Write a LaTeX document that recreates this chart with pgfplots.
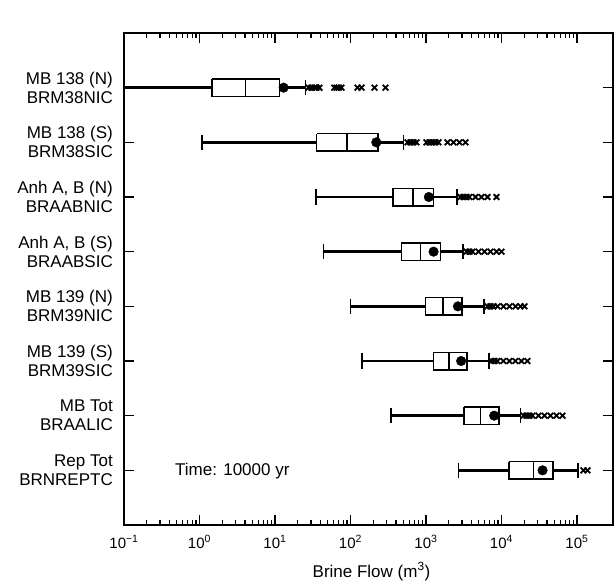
\documentclass[border=0pt]{standalone}
\usepackage{fontspec}
\setmainfont{Liberation Sans}
\usepackage{pgfplots}
\pgfplotsset{compat=1.18}

% #1 row, #2 min, #3 q1, #4 median, #5 q3, #6 upper whisker, #7 mean
\newcommand{\bx}[7]{%
 \pgfmathsetmacro\ylo{#1-0.16}\pgfmathsetmacro\yhi{#1+0.16}%
 \pgfmathsetmacro\cyl{#1-0.14}\pgfmathsetmacro\cyh{#1+0.14}%
 \addplot[line width=2.6pt] coordinates {(#2,#1) (#3,#1)};
 \addplot[line width=2.6pt] coordinates {(#5,#1) (#6,#1)};
 \addplot[line width=1.6pt] coordinates {(#2,\cyl) (#2,\cyh)};
 \addplot[line width=1.6pt] coordinates {(#6,\cyl) (#6,\cyh)};
 \addplot[line width=1.5pt, fill=white] coordinates {(#3,\ylo) (#5,\ylo) (#5,\yhi) (#3,\yhi) (#3,\ylo)};
 \addplot[line width=1.8pt] coordinates {(#4,\ylo) (#4,\yhi)};
 \addplot[only marks, mark=*, mark size=4.8pt] coordinates {(#7,#1)};
}

\begin{document}
\begin{tikzpicture}
\begin{axis}[
  name=ax,
  scale only axis,
  width=489pt, height=492pt,
  xmode=log, xmin=0.1, xmax=3e5,
  ymin=0, ymax=9, y dir=reverse,
  ytick={1,2,3,4,5,6,7,8},
  yticklabels={{MB 138 (N)\\BRM38NIC},{MB 138 (S)\\BRM38SIC},{Anh A, B (N)\\BRAABNIC},{Anh A, B (S)\\BRAABSIC},{MB 139 (N)\\BRM39NIC},{MB 139 (S)\\BRM39SIC},{MB Tot\\BRAALIC},{Rep Tot\\BRNREPTC}},
  yticklabel style={align=right, anchor=east, inner sep=0pt, xshift=-11pt, font=\fontsize{17}{19}\selectfont},
  xtick={0.1,1,10,100,1000,10000,100000},
  xticklabels={10\textsuperscript{−1},10\textsuperscript{0},10\textsuperscript{1},10\textsuperscript{2},10\textsuperscript{3},10\textsuperscript{4},10\textsuperscript{5}},
  xticklabel style={anchor=base, inner sep=0pt, yshift=-23pt, font=\fontsize{15}{17}\selectfont},
  tick align=inside,
  major tick length=10pt, minor tick length=5pt,
  every tick/.style={black, line width=1.3pt},
  axis line style={line width=2.1pt},
  ytick pos=both, xtick pos=both,
  xlabel={Brine Flow (m\textsuperscript{3})},
  xlabel style={at={(axis description cs:0.5,0)}, anchor=base, yshift=-52pt, xshift=3pt, inner sep=0pt, font=\fontsize{17}{19}\selectfont},
]
\bx{1}{0.01}{1.47}{4.07}{11.5}{25.4}{13.0}
\bx{2}{1.08}{35.5}{90}{233}{503}{220}
\bx{3}{35}{368}{670}{1260}{2590}{1090}
\bx{4}{44}{473}{846}{1550}{3110}{1260}
\bx{5}{100}{985}{1690}{3010}{5830}{2650}
\bx{6}{143}{1260}{2000}{3510}{6790}{2920}
\bx{7}{345}{3180}{5270}{9300}{17850}{8000}
\bx{8}{2710}{12500}{26500}{48200}{102500}{35000}

\addplot[only marks, mark=x, mark size=4pt, line width=1.8pt] coordinates {
 (27.8,1) (30.4,1) (33.4,1) (35.5,1) (38.8,1) (61,1) (65.3,1) (70,1) (76,1) (124,1) (140,1) (208,1) (291,1)
 (569,2) (623,2) (683,2) (748,2) (1015,2) (1112,2) (1219,2) (1336,2) (1465,2) (1928,2) (2313,2) (2778,2) (3337,2)
 (2864,3) (3139,3) (3437,3) (3767,3) (4529,3) (5433,3) (6531,3) (8590,3)
 (3437,4) (3767,4) (4130,4) (4955,4) (5956,4) (7145,4) (8590,4) (10000,4)
 (6531,5) (7145,5) (7832,5) (8850,5) (10620,5) (12760,5) (15310,5) (17850,5) (20170,5)
 (7375,6) (8074,6) (8850,6) (10620,6) (12760,6) (15310,6) (18400,6) (22090,6)
 (19560,7) (21430,7) (23480,7) (25730,7) (30900,7) (37150,7) (44570,7) (53460,7) (64270,7)
 (121900,8) (137600,8)
};

\node[anchor=base west, inner sep=0pt, font=\fontsize{17}{19}\selectfont] at (axis cs:0.473,8) [yshift=-5pt] {Time: 10000 yr};
\node[anchor=base east, inner sep=0pt, font=\fontsize{17}{19}\selectfont] at (rel axis cs:1,1) [yshift=16pt, xshift=-1pt] {BRAGFLO (E2 at 1000 yr, R1, R2, R3)};
\end{axis}
\path (ax.south west) ++(-124pt,-58pt) rectangle ([shift={(3pt,33pt)}]ax.north east);
\end{tikzpicture}
\end{document}
